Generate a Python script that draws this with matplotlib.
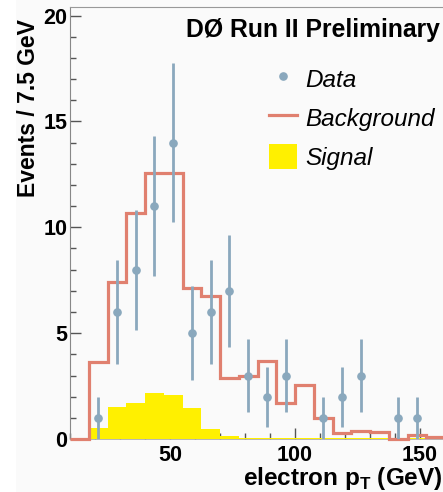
import numpy as np
import matplotlib
matplotlib.use("Agg")
import matplotlib.pyplot as plt
from matplotlib.lines import Line2D
from matplotlib.patches import Patch, Rectangle
from matplotlib.ticker import MultipleLocator

# ---- data ----
bin_edges = [10, 17.5, 25, 32.5, 40, 47.5, 55, 62.5, 70, 77.5, 85, 92.5, 100,
             107.5, 115, 122.5, 130, 137.5, 145, 152.5, 160]
background = [0.0, 3.66, 7.43, 10.66, 12.59, 12.59, 7.14, 6.74, 2.9, 3.0, 3.67,
              1.69, 2.56, 0.98, 0.27, 0.39, 0.32, 0.0, 0.19, 0.11]
signal = [0.0, 0.54, 1.53, 1.72, 2.19, 2.07, 1.45, 0.47, 0.16, 0.05, 0.05,
          0.05, 0.05, 0.05, 0.05, 0.05, 0.05, 0.05, 0.05, 0.05]
data_x = [21.25, 28.75, 36.25, 43.75, 51.25, 58.75, 66.25, 73.75, 81.25, 88.75,
          96.25, 111.25, 118.75, 126.25, 141.25, 148.75]
data_y = [1, 6, 8, 11, 14, 5, 6, 7, 3, 2, 3, 1, 2, 3, 1, 1]

xlim = (10, 160)
ylim = (0, 20.4)
yticks = [0, 5, 10, 15, 20]
xticks = [50, 100, 150]

W, H = 443, 492
plt.rcParams['font.family'] = ['Liberation Sans', 'DejaVu Sans']
plt.rcParams['mathtext.fontset'] = 'custom'
plt.rcParams['mathtext.bf'] = 'Liberation Sans:bold'
plt.rcParams['mathtext.rm'] = 'Liberation Sans:bold'

fig = plt.figure(figsize=(W / 100, H / 100), dpi=100, facecolor='#fafafa')
fig.patches.append(Rectangle((0, 0), 16 / W, 1, transform=fig.transFigure,
                             facecolor='white', edgecolor='none', zorder=-10))

ax = fig.add_axes([70 / W, 53 / H, (445 - 70) / W, (439 - 7.2) / H])
ax.set_facecolor('#fafafa')

red = '#e0806f'
blue = '#8aa8bd'
yellow = '#fff000'

edges = np.array(bin_edges)
sig = np.array(signal)
bkg = np.array(background)

ax.stairs(sig, edges, fill=True, color=yellow, linewidth=0, zorder=2)
ax.stairs(bkg, edges, color=red, linewidth=2.3, zorder=3, clip_on=False,
          baseline=None)
ax.errorbar(data_x, data_y, yerr=np.sqrt(data_y), fmt='o', color=blue,
            markersize=5.2, elinewidth=2, capsize=0, zorder=4)

ax.set_xlim(*xlim)
ax.set_ylim(*ylim)
ax.set_xticks(xticks)
ax.set_yticks(yticks)
ax.xaxis.set_minor_locator(MultipleLocator(10))
ax.yaxis.set_minor_locator(MultipleLocator(1))
ax.tick_params(which='major', direction='in', length=8, width=1, color='#555555',
               labelsize=15.5, pad=4.5)
ax.tick_params(which='minor', direction='in', length=4.5, width=1, color='#555555')
ax.tick_params(axis='y', which='major', pad=2)
for lab in ax.get_xticklabels() + ax.get_yticklabels():
    lab.set_fontweight('bold')

ax.spines['right'].set_visible(False)
ax.spines['left'].set_color('#888888')
ax.spines['top'].set_color('#999999')
ax.spines['bottom'].set_color('#aaaaaa')
ax.spines['bottom'].set_linewidth(0.6)

# labels
fig.text(29 / W, 1 - 108.5 / H, 'Events / 7.5 GeV', rotation=90, ha='center',
         va='center', fontsize=16.5, fontweight='bold')
fig.text(243 / W, 1 - 485 / H, r'electron p$_{\mathbf{T}}$ (GeV)', ha='left',
         va='baseline', fontsize=17.5, fontweight='bold')
fig.text(186 / W, 1 - 30 / H, 'DØ Run II Preliminary', ha='left', va='center',
         fontsize=17.8, fontweight='bold')

handles = [Line2D([], [], marker='o', linestyle='none', color=blue, markersize=5.2),
           Line2D([], [], color=red, linewidth=2.3),
           Patch(facecolor=yellow, edgecolor='none')]
labels = ['Data', 'Background', 'Signal']
leg = ax.legend(handles, labels, loc='upper left',
                bbox_to_anchor=(269 / W, 1 - 66 / H), bbox_transform=fig.transFigure,
                frameon=False, prop={'style': 'italic', 'size': 17.5},
                handlelength=1.15, handleheight=1.2, handletextpad=0.33,
                labelspacing=0.55, borderpad=0, borderaxespad=0)

fig.savefig('out.png', dpi=100, facecolor=fig.get_facecolor())
